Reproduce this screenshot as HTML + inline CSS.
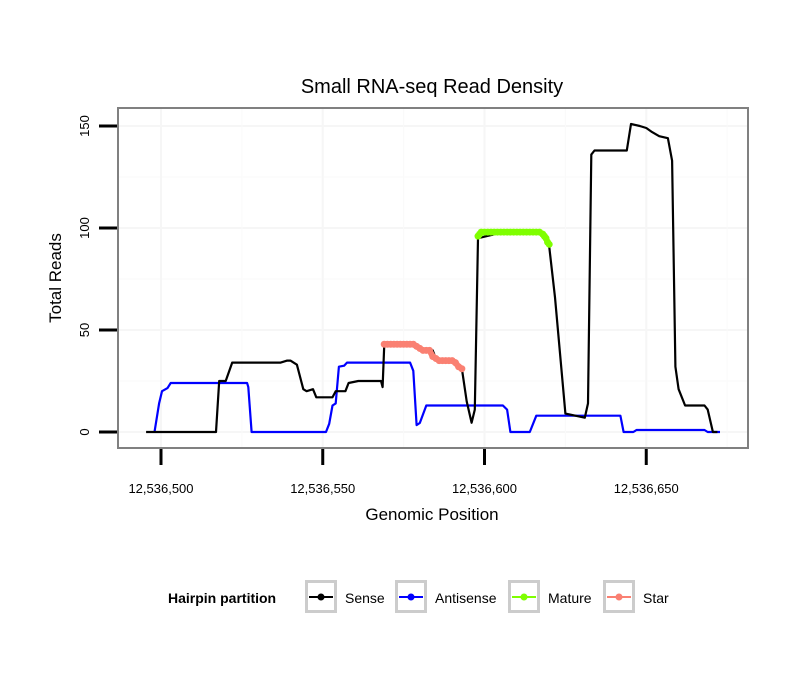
<!DOCTYPE html>
<html><head><meta charset="utf-8"><style>
body{margin:0;background:#fff;}
svg text{font-family:"Liberation Sans",sans-serif;}
</style></head><body>
<svg id="chart" width="810" height="690" xmlns="http://www.w3.org/2000/svg">
<rect width="810" height="690" fill="#fff"/>
<text x="432" y="93" font-size="20" text-anchor="middle">Small RNA-seq Read Density</text>
<g id="grid"></g>
<g id="series"></g>
<rect x="118" y="108" width="630" height="340" fill="none" stroke="#808080" stroke-width="2"/>
<g id="axes"></g>
<text x="432" y="520" font-size="17" text-anchor="middle">Genomic Position</text>
<text x="61" y="278" font-size="17" text-anchor="middle" transform="rotate(-90 61 278)">Total Reads</text>
<g>
<text x="168" y="603" font-size="14" font-weight="bold">Hairpin partition</text>
<g id="legend"></g>
</g>
</svg>
<script>
const xTicks=[12536500,12536550,12536600,12536650];
const xTickLabels=["12,536,500","12,536,550","12,536,600","12,536,650"];
const yTicks=[0,50,100,150];
const yTickLabels=["0","50","100","150"];
const sensePos=[495.4,517,518,520,522,537,539,540,542,544,545,547,548,553,554,557,558,561,568,568.5,569,575,579,581,584,585,591,592,593,594.5,596,597,598,606,618,619,620,621.8,625,631,632,633,634,644,645.3,648,650,651.8,654,656.7,658,659,660,662,668,669,670.6,672];
const senseVal=[0,0,25,25,34,34,35,35,33,21,20,21,17,17,20,20,24,25,25,22,42,43,42,40,40,36,35,32,31,15,4.5,11,95,98,97,95,91,66,9,7,14,136,138,138,151,150,149,147,145,144,133,32,21,13,13,11,0,0];
const antiPos=[498,499.4,500.3,502,503,526.6,527,528,551,552,553,554,555,556.6,557.5,577,578,579,580,582,605.7,607,608,614,616,642,643,646,647,668,669,672.8];
const antiVal=[0,14,20,21.5,24,24,22,0,0,4,13,14,32,32.5,34,34,30,3.4,4.4,13,13,11,0,0,8,8,0,0,1,1,0,0];
const maturePos=[598,598.5,599,600,601,602,603,604,605,606,607,608,609,610,611,612,613,614,615,616,617,618,618.5,619,619.5,620];
const matureVal=[96,97,98,98,98,98,98,98,98,98,98,98,98,98,98,98,98,98,98,98,98,97,96,95,93,92];
const starPos=[569,570,571,572,573,574,575,576,577,578,579,580,581,582,583,584,585,586,587,588,589,590,591,592,593];
const starVal=[43,43,43,43,43,43,43,43,43,43,42,41,40,40,40,37,36,35,35,35,35,35,34,32,31];
const X0=12536500;
function xp(p){return 161+(p-500)*3.235;}
function sy(v){return 432-v*2.04;}
const NS="http://www.w3.org/2000/svg";
function mk(t,a,parent){const e=document.createElementNS(NS,t);for(const k in a)e.setAttribute(k,a[k]);parent.appendChild(e);return e;}
const grid=document.getElementById('grid'),axes=document.getElementById('axes'),series=document.getElementById('series'),legend=document.getElementById('legend');
for(let i=0;i<yTicks.length;i++){
  const g=mk('line',{x1:118,x2:748,y1:sy(yTicks[i]),y2:sy(yTicks[i]),stroke:'#f6f6f6','stroke-width':2},grid);
  
  
  if(i<yTicks.length-1){const m=mk('line',{x1:118,x2:748,y1:sy(yTicks[i]+25),y2:sy(yTicks[i]+25),stroke:'#fafafa','stroke-width':1},grid);
  
  }
}
for(let i=0;i<xTicks.length;i++){
  const xx=161+(xTicks[i]-X0)*3.235;
  const g=mk('line',{x1:xx,x2:xx,y1:108,y2:448,stroke:'#f6f6f6','stroke-width':2},grid);
  
  
  [xx-80.9,xx+80.9].forEach(m=>{if(m>118&&m<748&&(i==0||m>xx)){const l=mk('line',{x1:m,x2:m,y1:108,y2:448,stroke:'#fafafa','stroke-width':1},grid);
  
  }});
  const t=mk('line',{x1:xx,x2:xx,y1:449,y2:465,stroke:'#000','stroke-width':3},axes);
  
  
  const tl=mk('text',{x:xx,y:493,'font-size':13,'text-anchor':'middle'},axes);tl.textContent=xTickLabels[i];
  
  
}
for(let i=0;i<yTicks.length;i++){
  const y=sy(yTicks[i]);
  const t=mk('line',{x1:99,x2:117,y1:y,y2:y,stroke:'#000','stroke-width':3},axes);
  
  
  const tl=mk('text',{x:89,y:y,'font-size':13,'text-anchor':'middle',transform:`rotate(-90 89 ${y})`},axes);tl.textContent=yTickLabels[i];
  
  
}
function pts(P,V){return P.map((p,i)=>xp(p).toFixed(1)+','+sy(V[i]).toFixed(1)).join(' ');}
const a=mk('polyline',{points:pts(antiPos,antiVal),fill:'none',stroke:'#0000ff','stroke-width':2.2,'stroke-linejoin':'round'},series);


const s=mk('polyline',{points:pts(sensePos,senseVal),fill:'none',stroke:'#000','stroke-width':2.2,'stroke-linejoin':'round'},series);


[[starPos,starVal,'#fa8072','star'],[maturePos,matureVal,'#7fff00','mature']].forEach(([P,V,c,n])=>{
  const l=mk('polyline',{points:pts(P,V),fill:'none',stroke:c,'stroke-width':6,'stroke-linejoin':'round','stroke-linecap':'round'},series);
  
  
  P.forEach((p,i)=>{const d=mk('circle',{cx:xp(p),cy:sy(V[i]),r:3.5,fill:c},series);
  
  });
});
const leg=[[305,'#000','Sense'],[395,'#0000ff','Antisense'],[508,'#7fff00','Mature'],[603,'#fa8072','Star']];
leg.forEach(([x,c,t])=>{
  const g=mk('g',{},legend);
  
  
  mk('rect',{x:x+1.5,y:581.5,width:29,height:30,fill:'#fff',stroke:'#cccccc','stroke-width':3},g);
  mk('line',{x1:x+4,x2:x+28,y1:597,y2:597,stroke:c,'stroke-width':2},g);
  mk('circle',{cx:x+16,cy:597,r:3.5,fill:c},g);
  const tx=mk('text',{x:x+40,y:603,'font-size':14},g);tx.textContent=t;
});
</script>
</body></html>
